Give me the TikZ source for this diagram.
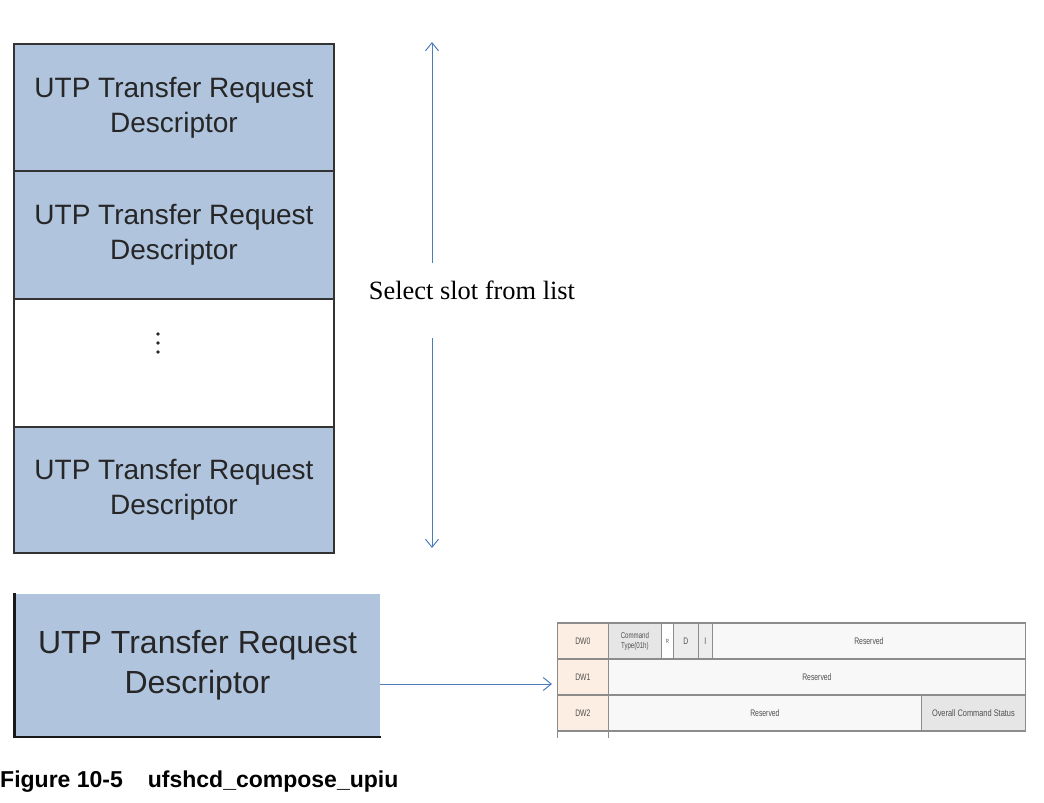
\documentclass[tikz,border=0pt]{standalone}
\usepackage{fontspec}
\usepackage{graphicx}
\usetikzlibrary{arrows.meta}
\newfontfamily\arialfont{Liberation Sans}
\newfontfamily\seriffnt{Liberation Serif}
\definecolor{descblue}{HTML}{B0C4DE}
\definecolor{arrowblue}{HTML}{4A7EBB}
\definecolor{gridgray}{HTML}{8C8C8C}
\definecolor{peach}{HTML}{FCEEE2}
\definecolor{cellgray}{HTML}{E6E6E6}
\definecolor{resv}{HTML}{F8F8F8}
\definecolor{tabtext}{HTML}{505050}
\tikzset{
  desc/.style={draw=black!80, line width=1.5pt, fill=descblue, minimum width=320pt,
    inner sep=0pt, align=center, text=black!85,
    font=\arialfont\fontsize{28}{35}\selectfont},
  cell/.style={draw=gridgray, line width=0.8pt, inner sep=0pt, anchor=north west,
    align=center, text=tabtext, font=\arialfont\fontsize{9.5}{10}\selectfont},
  sep/.style={draw=gridgray, line width=1.6pt},
  blarrow/.style={draw=arrowblue, line width=1pt, -{Straight Barb[length=8pt,width=13pt,line width=1pt]}}
}
\newcommand{\cnd}[1]{\scalebox{0.72}[1]{#1}}
\begin{document}
\begin{tikzpicture}[x=1pt,y=-1pt]
\useasboundingbox (0,0) rectangle (1044,803);
% stack of descriptors
\node[desc, minimum height=127pt] (d1) at (174,107.5) {UTP Transfer Request\\Descriptor};
\node[desc, minimum height=128pt] (d2) at (174,235) {UTP Transfer Request\\Descriptor};
\node[desc, fill=white, minimum height=128pt] (gap) at (174,363) {};
\node[desc, minimum height=126pt] (d4) at (174,490) {UTP Transfer Request\\Descriptor};
\fill[black!85] (158,334) circle (1.8) (158,343) circle (1.8) (158,352) circle (1.8);
% select slot arrow
\coordinate (vtop) at (432,42);
\coordinate (vup) at (432,263);
\coordinate (vdn) at (432,338);
\coordinate (vbot) at (432,548);
\node[font=\seriffnt\fontsize{26.4}{30}\selectfont, inner sep=0pt] (sel) at (472,290) {Select slot from list};
\draw[blarrow] (vup) -- (vtop);
\draw[blarrow] (vdn) -- (vbot);
% selected descriptor
\node[desc, draw=none, minimum width=365pt, minimum height=142pt,
  font=\arialfont\fontsize{32}{40}\selectfont] (sd) at (197.5,665) {UTP Transfer Request\\Descriptor};
\draw[black!90, line width=2.5pt] (sd.north west) -- (sd.south west) -- (sd.south east);
% table
\node[cell, fill=peach, minimum width=51pt, minimum height=36pt] (dw0) at (557,623) {\cnd{DW0}};
\node[cell, fill=peach, minimum width=51pt, minimum height=36pt] (dw1) at (557,659) {\cnd{DW1}};
\node[cell, fill=peach, minimum width=51pt, minimum height=35pt] (dw2) at (557,695) {\cnd{DW2}};
\node[cell, fill=cellgray, minimum width=53pt, minimum height=36pt,
  font=\arialfont\fontsize{8.5}{10}\selectfont] (ct) at (608,623) {\cnd{Command}\\\cnd{Type(01h)}};
\node[cell, fill=white, minimum width=12pt, minimum height=36pt,
  font=\arialfont\fontsize{6}{7}\selectfont] (rb) at (661,623) {\cnd{R}};
\node[cell, fill=cellgray!70, minimum width=25pt, minimum height=36pt] (db) at (673,623) {\cnd{D}};
\node[cell, fill=cellgray!70, minimum width=14pt, minimum height=36pt] (ib) at (698,623) {\cnd{I}};
\node[cell, fill=resv, minimum width=313pt, minimum height=36pt] (r0) at (712,623) {\cnd{Reserved}};
\node[cell, fill=resv, minimum width=417pt, minimum height=36pt] (r1) at (608,659) {\cnd{Reserved}};
\node[cell, fill=resv, minimum width=313pt, minimum height=35pt] (r2) at (608,695) {\cnd{Reserved}};
\node[cell, fill=cellgray, minimum width=104pt, minimum height=35pt] (ocs) at (921,695) {\scalebox{0.78}[1]{Overall Command Status}};
\draw[black!85, line width=1.3pt] (db.south west) -- (db.south east);
\draw[sep] (dw0.north west) -- (r0.north east);
\draw[sep] (dw1.north west) -- (r1.north east);
\draw[sep] (dw2.north west) -- (ocs.north east);
\draw[sep] (dw2.south west) -- (ocs.south east);
\draw[gridgray, line width=0.8pt] (dw2.south west) -- ++(0,7) (dw2.south east) -- ++(0,7);
% arrow to table
\coordinate (hs) at (380,684);
\coordinate (he) at (552,684);
\draw[blarrow] (hs) -- (he);
% caption
\node[anchor=base west, inner sep=0pt, font=\arialfont\bfseries\fontsize{23}{26}\selectfont] (cap) at (0,787) {Figure 10-5\hspace{25pt}ufshcd\_compose\_upiu};
\end{tikzpicture}
\end{document}
